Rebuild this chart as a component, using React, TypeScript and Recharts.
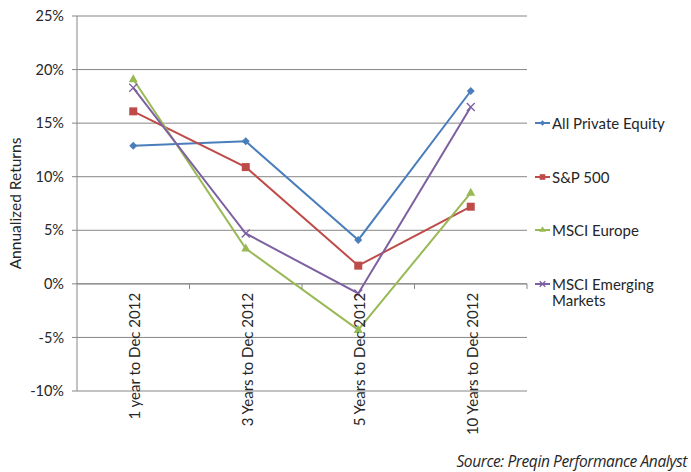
import React from "react";
import { LineChart, Line, XAxis, YAxis, CartesianGrid, ReferenceLine } from "recharts";

const categories = ["1 year to Dec 2012", "3 Years to Dec 2012", "5 Years to Dec 2012", "10 Years to Dec 2012"];
const privateEquity = [12.9, 13.3, 4.1, 18.0];
const sp500 = [16.1, 10.9, 1.7, 7.2];
const msciEurope = [19.1, 3.3, -4.3, 8.5];
const msciEmerging = [18.3, 4.7, -0.9, 16.5];
const yTicks = [-10, -5, 0, 5, 10, 15, 20, 25];

const SERIES = [
  { key: "pe", name: "All Private Equity", color: "#4a7ebb", shape: "diamond" },
  { key: "sp", name: "S&P 500", color: "#be4b48", shape: "square" },
  { key: "eu", name: "MSCI Europe", color: "#98b954", shape: "triangle" },
  { key: "em", name: "MSCI Emerging Markets", color: "#7d60a0", shape: "x" },
];

const data = categories.map((c, i) => ({
  cat: c,
  pe: privateEquity[i],
  sp: sp500[i],
  eu: msciEurope[i],
  em: msciEmerging[i],
}));

const W = 691;
const H = 472;
const M = { top: 16, right: 164, left: 0, bottom: 0 };
const Y_AXIS_W = 77;
const X_AXIS_H = 81;
const PLOT_H = H - M.top - M.bottom - X_AXIS_H;
const PLOT_W = W - Y_AXIS_W - M.right;
const BAND = PLOT_W / categories.length;
const Y_MIN = -10;
const Y_MAX = 25;
const ZERO_Y = M.top + (PLOT_H * Y_MAX) / (Y_MAX - Y_MIN);
const GRID = "#868686";
const TEXT = "#262626";
const FONT = "Lato, 'Noto Sans', sans-serif";

function Marker({ cx, cy, shape, color, s = 4 }: any) {
  if (cx == null || cy == null) return null;
  if (shape === "diamond")
    return <path d={`M${cx},${cy - s} L${cx + s},${cy} L${cx},${cy + s} L${cx - s},${cy} Z`} fill={color} />;
  if (shape === "square")
    return <rect x={cx - s} y={cy - s} width={s * 2} height={s * 2} fill={color} />;
  if (shape === "triangle")
    return <path d={`M${cx},${cy - s - 1} L${cx + s + 0.5},${cy + s - 1} L${cx - s - 0.5},${cy + s - 1} Z`} fill={color} />;
  return (
    <path d={`M${cx - s},${cy - s} L${cx + s},${cy + s} M${cx - s},${cy + s} L${cx + s},${cy - s}`} stroke={color} strokeWidth={1.3} />
  );
}

function XTick({ x, payload }: any) {
  return (
    <g>
      <line x1={x + BAND / 2} y1={ZERO_Y} x2={x + BAND / 2} y2={ZERO_Y + 5} stroke={GRID} />
      <text
        x={x + 1}
        y={ZERO_Y + 9}
        transform={`rotate(-90, ${x + 1}, ${ZERO_Y + 9})`}
        textAnchor="end"
        dominantBaseline="central"
        fontSize={15}
        fontFamily={FONT}
        fill={TEXT}
      >
        {payload.value}
      </text>
    </g>
  );
}

function YTitle({ viewBox }: any) {
  const cy = viewBox.y + viewBox.height / 2;
  return (
    <text
      x={15}
      y={cy}
      transform={`rotate(-90, 15, ${cy})`}
      textAnchor="middle"
      dominantBaseline="central"
      fontSize={15.5}
      fontFamily={FONT}
      fill={TEXT}
    >
      Annualized Returns
    </text>
  );
}

function LegendBox() {
  return (
    <div
      style={{
        position: "absolute",
        left: 534,
        top: 115,
        width: 157,
        fontFamily: FONT,
        fontSize: 15,
        color: TEXT,
        lineHeight: "16px",
      }}
    >
      {SERIES.map((s) => (
        <div key={s.key} style={{ display: "flex", alignItems: "flex-start", height: PLOT_H / 7 }}>
          <svg width={18} height={16} style={{ flex: "none" }}>
            <line x1={1} y1={8} x2={16} y2={8} stroke={s.color} strokeWidth={2} />
            <Marker cx={8.5} cy={8} shape={s.shape} color={s.color} s={2.8} />
          </svg>
          <span style={{ width: 120 }}>{s.name}</span>
        </div>
      ))}
    </div>
  );
}

export default function App() {
  return (
    <div style={{ position: "absolute", left: 0, top: 0, width: W, height: H, background: "#fff" }}>
      <LineChart width={W} height={H} data={data} margin={M}>
        <CartesianGrid vertical={false} stroke={GRID} />
        <XAxis
          dataKey="cat"
          height={X_AXIS_H}
          axisLine={false}
          tickLine={false}
          interval={0}
          padding={{ left: BAND / 2, right: BAND / 2 }}
          tick={<XTick />}
        />
        <YAxis
          width={Y_AXIS_W}
          domain={[Y_MIN, Y_MAX]}
          ticks={yTicks}
          interval={0}
          allowDataOverflow
          stroke={GRID}
          tickSize={5}
          tickMargin={8}
          tick={{ fontSize: 14.5, fill: TEXT, fontFamily: FONT }}
          tickFormatter={(v: number) => `${v}%`}
          label={<YTitle />}
        />
        <ReferenceLine y={0} stroke={GRID} />
        {SERIES.map((s) => (
          <Line
            key={s.key}
            dataKey={s.key}
            name={s.name}
            stroke={s.color}
            strokeWidth={2}
            isAnimationActive={false}
            dot={(p: any) => <Marker key={`${s.key}-${p.index}`} cx={p.cx} cy={p.cy} shape={s.shape} color={s.color} />}
            activeDot={false}
          />
        ))}
      </LineChart>
      <LegendBox />
      <div
        style={{
          position: "absolute",
          right: 4,
          top: 450,
          fontFamily: "'Open Sans', sans-serif",
          fontStyle: "italic",
          fontSize: 15.5,
          color: TEXT,
          letterSpacing: -0.4,
        }}
      >
        Source: Preqin Performance Analyst
      </div>
    </div>
  );
}
